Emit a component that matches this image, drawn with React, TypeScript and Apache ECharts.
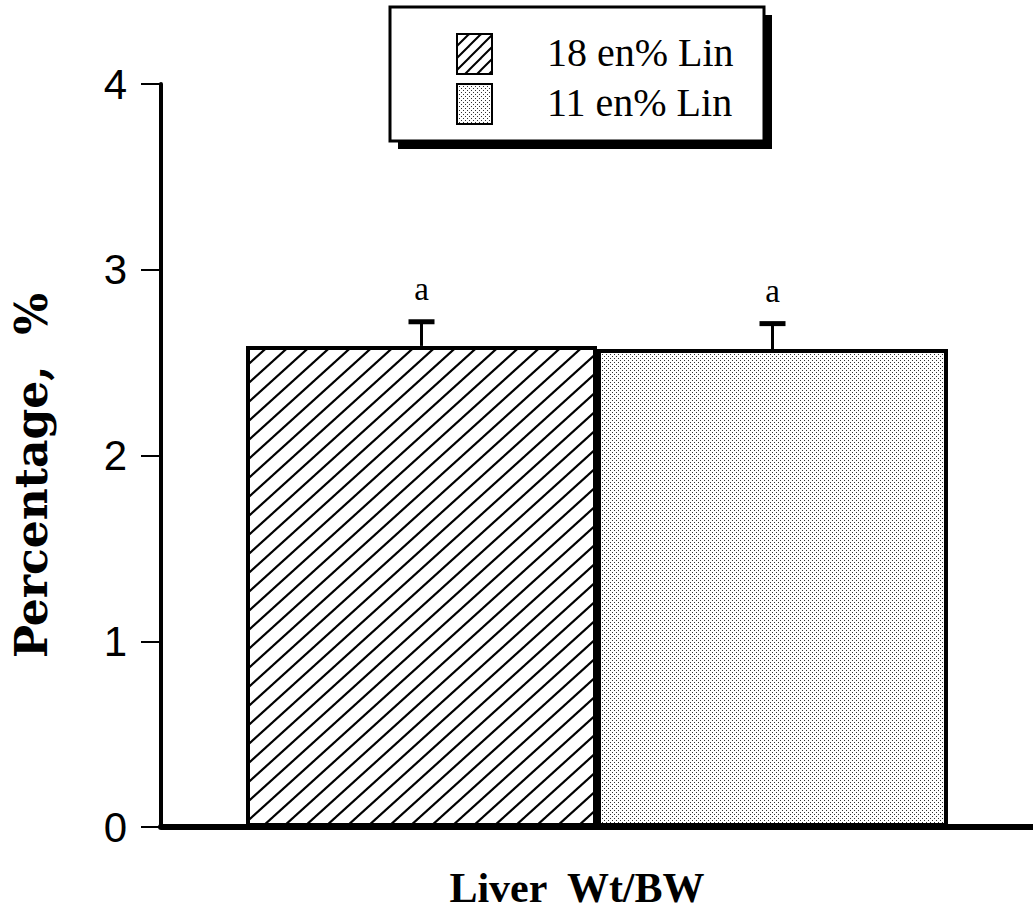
import React, { useEffect, useRef } from "react";
import * as echarts from "echarts";

// Data
const categories = ["Liver Wt/BW"];
const groupNames = ["18 en% Lin", "11 en% Lin"];
const means = [2.59, 2.573];
const errors = [0.13, 0.137];
const sigLetters = ["a", "a"];
const yTicks = [0, 1, 2, 3, 4];

const BAR_WIDTH = 351;

function hatchCanvas(w: number, h: number, lw: number): HTMLCanvasElement {
  const c = document.createElement("canvas");
  c.width = w;
  c.height = h;
  const ctx = c.getContext("2d")!;
  ctx.fillStyle = "#ffffff";
  ctx.fillRect(0, 0, w, h);
  ctx.strokeStyle = "#000000";
  ctx.lineWidth = lw;
  ctx.lineCap = "square";
  for (const dx of [-w, 0, w]) {
    ctx.beginPath();
    ctx.moveTo(dx, h);
    ctx.lineTo(dx + w, 0);
    ctx.stroke();
  }
  return c;
}

function stippleCanvas(): HTMLCanvasElement {
  const c = document.createElement("canvas");
  c.width = 4;
  c.height = 4;
  const ctx = c.getContext("2d")!;
  ctx.fillStyle = "#ffffff";
  ctx.fillRect(0, 0, 4, 4);
  ctx.fillStyle = "#333333";
  ctx.fillRect(0, 0, 1, 1);
  ctx.fillRect(2, 2, 1, 1);
  return c;
}

export default function App() {
  const ref = useRef<HTMLDivElement>(null);

  useEffect(() => {
    if (!ref.current) return;
    const chart = echarts.init(ref.current, undefined, { renderer: "svg" });

    const hatch = { image: hatchCanvas(21, 19, 2.2), repeat: "repeat" } as any;
    const hatchSmall = { image: hatchCanvas(12, 12, 2), repeat: "repeat" } as any;
    const dots = { image: stippleCanvas(), repeat: "repeat" } as any;
    const fills = [hatch, dots];
    const legendFills = [hatchSmall, dots];

    const serif = "'Liberation Serif', 'Times New Roman', serif";
    const wideSerif = "'DejaVu Serif', 'Century Schoolbook', serif";
    const sans = "'Liberation Sans', Arial, sans-serif";

    const barSeries = groupNames.map((name, i) => ({
      name,
      type: "bar",
      data: [means[i]],
      barWidth: BAR_WIDTH,
      barGap: "0%",
      itemStyle: { color: fills[i], borderColor: "#000", borderWidth: 4 },
      z: 2,
    }));

    const errData = groupNames.map((_, i) => [0, means[i], means[i] + errors[i], i]);

    const option: any = {
      animation: false,
      backgroundColor: "#ffffff",
      grid: { left: 161, right: -6, top: 84, bottom: 89, containLabel: false },
      graphic: [
        { type: "rect", z: 0, shape: { x: 398, y: 15, width: 374, height: 134 }, style: { fill: "#000" } },
        {
          type: "rect",
          z: 1,
          shape: { x: 390, y: 7, width: 374, height: 134 },
          style: { fill: "#fff", stroke: "#000", lineWidth: 3 },
        },
      ],
      legend: {
        orient: "vertical",
        left: 451,
        top: 27,
        z: 10,
        itemWidth: 35,
        itemHeight: 40,
        itemGap: 7,
        icon: "rect",
        itemStyle: { borderColor: "#000", borderWidth: 2 },
        data: groupNames.map((n, i) => ({ name: n, itemStyle: { color: legendFills[i] } })),
        formatter: (name: string) => "{t|" + name + "}",
        textStyle: {
          rich: {
            t: { fontFamily: serif, fontSize: 40, color: "#000", padding: [0, 0, 4, 50] },
          },
        },
        selectedMode: false,
      },
      xAxis: {
        type: "category",
        data: categories,
        name: "Liver  Wt/BW",
        nameLocation: "middle",
        nameGap: 40,
        nameTextStyle: {
          fontFamily: serif,
          fontWeight: "bold",
          fontSize: 42,
          color: "#000",
          padding: [0, 40, 0, 0],
        },
        axisLine: { lineStyle: { color: "#000", width: 6 } },
        axisTick: { show: false },
        axisLabel: { show: false },
      },
      yAxis: {
        type: "value",
        min: 0,
        max: 4,
        interval: 1,
        name: "Percentage,  %",
        nameLocation: "middle",
        nameGap: 108,
        nameRotate: 90,
        nameTextStyle: {
          fontFamily: wideSerif,
          fontWeight: "bold",
          fontSize: 44,
          color: "#000",
          padding: [0, 40, 0, 0],
        },
        axisLine: { show: true, lineStyle: { color: "#000", width: 4 } },
        axisTick: { show: true, length: 20, lineStyle: { color: "#000", width: 2 } },
        axisLabel: {
          margin: 34,
          fontFamily: sans,
          fontSize: 42,
          color: "#000",
          formatter: (v: number) => (yTicks.includes(v) ? String(v) : ""),
        },
        splitLine: { show: false },
      },
      series: [
        ...barSeries,
        {
          type: "custom",
          name: "error",
          z: 5,
          data: errData,
          encode: { x: 0, y: [1, 2] },
          renderItem: (params: any, api: any) => {
            const idx = api.value(3);
            const layout = api.barLayout({ count: 2, barWidth: BAR_WIDTH, barGap: "0%" });
            const base = api.coord([api.value(0), api.value(1)]);
            const top = api.coord([api.value(0), api.value(2)]);
            const x = base[0] + layout[idx].offsetCenter;
            const half = 13;
            return {
              type: "group",
              children: [
                {
                  type: "line",
                  shape: { x1: x, y1: base[1], x2: x, y2: top[1] },
                  style: { stroke: "#000", lineWidth: 3 },
                },
                {
                  type: "line",
                  shape: { x1: x - half, y1: top[1], x2: x + half, y2: top[1] },
                  style: { stroke: "#000", lineWidth: 5 },
                },
                {
                  type: "text",
                  x,
                  y: top[1] - 16,
                  style: {
                    text: sigLetters[idx],
                    fontFamily: serif,
                    fontSize: 33,
                    fill: "#000",
                    align: "center",
                    verticalAlign: "bottom",
                  },
                },
              ],
            };
          },
        },
      ],
    };

    chart.setOption(option);
    return () => chart.dispose();
  }, []);

  return (
    <div
      ref={ref}
      style={{ position: "absolute", left: 0, top: 0, width: 1033, height: 916, background: "#fff" }}
    />
  );
}
